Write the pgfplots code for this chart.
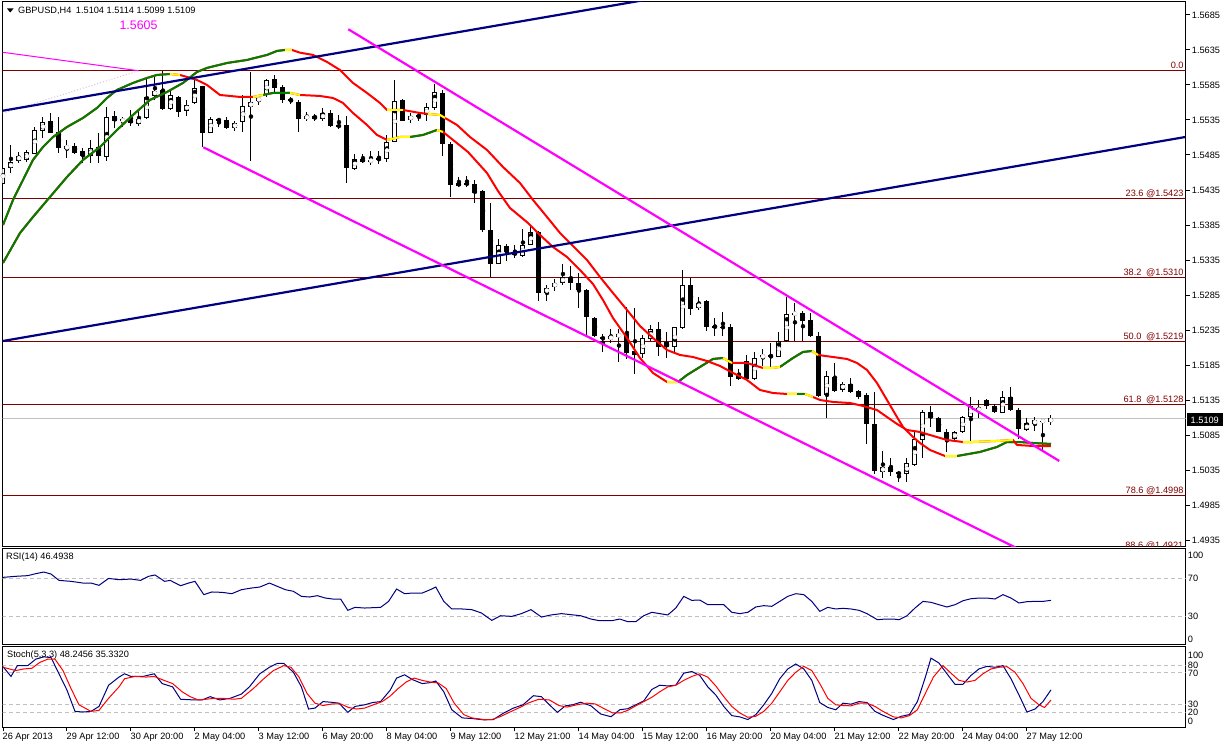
\documentclass[border=0pt]{standalone}
\usepackage{fontspec}
\setmainfont{Liberation Sans}
\usepackage{pgfplots}
\usepackage{pgfplotstable}
\pgfplotsset{compat=1.18}
\definecolor{mtmaroon}{RGB}{128,0,0}
\definecolor{mtnavy}{RGB}{0,0,128}
\definecolor{mtgreen}{RGB}{0,128,0}
\definecolor{mtsilver}{RGB}{192,192,192}
\definecolor{mtmag}{RGB}{255,0,255}
\definecolor{mtdot}{RGB}{216,191,216}
\definecolor{mtyellow}{RGB}{255,255,0}
\definecolor{mtred}{RGB}{255,0,0}

% bullish candles (close >= open)
\pgfplotstableread{
i o h l c
0 1.5444 1.5471 1.5441 1.5466
1 1.5466 1.5499 1.5460 1.5475
2 1.5477 1.5490 1.5473 1.5484
3 1.5478 1.5492 1.5475 1.5489
4 1.5487 1.5525 1.5486 1.5521
5 1.5519 1.5540 1.5510 1.5532
8 1.5494 1.5507 1.5481 1.5498
11 1.5483 1.5506 1.5473 1.5495
13 1.5482 1.5553 1.5477 1.5539
15 1.5533 1.5540 1.5525 1.5536
17 1.5530 1.5550 1.5526 1.5537
18 1.5538 1.5596 1.5536 1.5568
19 1.5570 1.5597 1.5564 1.5577
21 1.5551 1.5578 1.5549 1.5570
23 1.5548 1.5564 1.5541 1.5557
24 1.5559 1.5592 1.5558 1.5580
26 1.5517 1.5539 1.5516 1.5537
29 1.5523 1.5534 1.5520 1.5531
30 1.5532 1.5570 1.5518 1.5555
31 1.5554 1.5603 1.5477 1.5560
32 1.5562 1.5571 1.5556 1.5567
33 1.5571 1.5593 1.5568 1.5592
38 1.5537 1.5547 1.5533 1.5541
40 1.5536 1.5552 1.5534 1.5545
44 1.5465 1.5487 1.5464 1.5480
46 1.5476 1.5490 1.5471 1.5478
48 1.5479 1.5514 1.5475 1.5504
49 1.5504 1.5592 1.5503 1.5562
51 1.5535 1.5545 1.5531 1.5541
53 1.5542 1.5559 1.5534 1.5553
54 1.5552 1.5587 1.5549 1.5575
62 1.5330 1.5365 1.5329 1.5357
65 1.5341 1.5380 1.5340 1.5357
66 1.5357 1.5385 1.5356 1.5375
68 1.5288 1.5299 1.5277 1.5295
69 1.5296 1.5308 1.5291 1.5303
70 1.5302 1.5330 1.5300 1.5311
76 1.5222 1.5236 1.5216 1.5226
77 1.5225 1.5236 1.5190 1.5230
80 1.5201 1.5228 1.5195 1.5223
81 1.5222 1.5243 1.5219 1.5236
84 1.5211 1.5240 1.5202 1.5239
85 1.5238 1.5321 1.5236 1.5299
87 1.5266 1.5282 1.5264 1.5274
94 1.5165 1.5204 1.5164 1.5195
95 1.5196 1.5208 1.5184 1.5199
97 1.5197 1.5233 1.5196 1.5219
98 1.5219 1.5283 1.5218 1.5258
99 1.5258 1.5273 1.5219 1.5259
103 1.5142 1.5176 1.5109 1.5169
105 1.5150 1.5161 1.5146 1.5158
110 1.5033 1.5062 1.5024 1.5039
113 1.5029 1.5053 1.5018 1.5045
114 1.5042 1.5092 1.5041 1.5079
115 1.5078 1.5121 1.5052 1.5118
119 1.5079 1.5091 1.5078 1.5090
120 1.5090 1.5112 1.5088 1.5111
121 1.5111 1.5140 1.5076 1.5127
122 1.5120 1.5135 1.5110 1.5123
125 1.5117 1.5148 1.5116 1.5140
128 1.5092 1.5109 1.5091 1.5102
129 1.5101 1.5111 1.5091 1.5106
130 1.5105 1.5106 1.5064 1.5105
131 1.5104 1.5114 1.5099 1.5109
}\bull

% bearish candles (close < open)
\pgfplotstableread{
i o h l c
6 1.5534 1.5545 1.5516 1.5517
7 1.5518 1.5540 1.5488 1.5495
9 1.5498 1.5502 1.5487 1.5488
10 1.5491 1.5495 1.5474 1.5483
12 1.5497 1.5516 1.5473 1.5483
14 1.5541 1.5548 1.5524 1.5534
16 1.5535 1.5549 1.5526 1.5531
20 1.5578 1.5605 1.5549 1.5551
22 1.5568 1.5569 1.5540 1.5547
25 1.5583 1.5584 1.5496 1.5517
27 1.5537 1.5538 1.5525 1.5533
28 1.5535 1.5540 1.5522 1.5523
34 1.5593 1.5599 1.5575 1.5581
35 1.5582 1.5585 1.5559 1.5564
36 1.5565 1.5568 1.5558 1.5562
37 1.5561 1.5564 1.5518 1.5536
39 1.5540 1.5544 1.5534 1.5537
41 1.5545 1.5549 1.5525 1.5526
42 1.5528 1.5542 1.5522 1.5525
43 1.5528 1.5541 1.5445 1.5466
45 1.5480 1.5487 1.5474 1.5475
47 1.5480 1.5490 1.5472 1.5478
50 1.5564 1.5565 1.5533 1.5534
52 1.5542 1.5545 1.5534 1.5540
55 1.5573 1.5578 1.5484 1.5500
56 1.5501 1.5504 1.5425 1.5442
57 1.5445 1.5454 1.5439 1.5441
58 1.5445 1.5455 1.5439 1.5443
59 1.5444 1.5449 1.5416 1.5431
60 1.5434 1.5435 1.5375 1.5378
61 1.5378 1.5416 1.5311 1.5329
63 1.5355 1.5358 1.5334 1.5346
64 1.5346 1.5356 1.5338 1.5342
67 1.5375 1.5377 1.5276 1.5288
71 1.5311 1.5326 1.5292 1.5302
72 1.5302 1.5317 1.5266 1.5292
73 1.5292 1.5293 1.5228 1.5254
74 1.5253 1.5254 1.5225 1.5226
75 1.5225 1.5230 1.5204 1.5222
78 1.5229 1.5268 1.5194 1.5203
79 1.5205 1.5266 1.5172 1.5200
82 1.5236 1.5247 1.5198 1.5211
83 1.5218 1.5232 1.5195 1.5211
86 1.5300 1.5310 1.5257 1.5265
88 1.5277 1.5278 1.5234 1.5240
89 1.5241 1.5253 1.5227 1.5239
90 1.5240 1.5261 1.5227 1.5238
91 1.5240 1.5244 1.5155 1.5168
92 1.5172 1.5179 1.5164 1.5165
93 1.5191 1.5200 1.5164 1.5165
96 1.5199 1.5216 1.5180 1.5196
100 1.5259 1.5262 1.5219 1.5248
101 1.5249 1.5260 1.5225 1.5226
102 1.5227 1.5232 1.5140 1.5141
104 1.5168 1.5188 1.5146 1.5148
106 1.5158 1.5166 1.5145 1.5147
107 1.5148 1.5149 1.5136 1.5140
108 1.5142 1.5145 1.5072 1.5101
109 1.5101 1.5147 1.5030 1.5033
111 1.5040 1.5053 1.5026 1.5032
112 1.5032 1.5034 1.5018 1.5029
116 1.5118 1.5127 1.5096 1.5110
117 1.5110 1.5111 1.5089 1.5090
118 1.5089 1.5094 1.5061 1.5079
123 1.5135 1.5136 1.5123 1.5126
124 1.5127 1.5129 1.5116 1.5118
126 1.5140 1.5154 1.5120 1.5121
127 1.5121 1.5123 1.5080 1.5093
}\bear

\pgfplotsset{
  mt/.style={scale only axis, width=1183.2pt, xmin=-0.0625, xmax=147.84,
    anchor=south west, axis line style={black, line width=1pt},
    tick style={black, line width=1pt},
    tick label style={font=\fontsize{9.2}{11}\selectfont}},
  mainax/.style={mt, at={(2.5pt,199.3pt)}, height=544.7pt, ymin=1.49256, ymax=1.57035},
  cndl/.style={only marks, mark=none, forget plot},
}
\tikzset{fiblab/.style={anchor=base east, inner sep=0pt, text=mtmaroon, yshift=2.2pt, font=\fontsize{9.2}{11}\selectfont}}

\begin{document}
\begin{tikzpicture}[x=1pt,y=1pt,font=\fontsize{9.2}{11}\selectfont]
\path (0,0) rectangle (1225,746);

%================ MAIN PANEL: frame, levels =================
\begin{axis}[mainax,
  xtick=\empty,
  ytick={1.4935,1.4985,1.5035,1.5085,1.5135,1.5185,1.5235,1.5285,1.5335,1.5385,1.5435,1.5485,1.5535,1.5585,1.5635,1.5685},
  yticklabels={1.4935,1.4985,1.5035,1.5085,1.5135,1.5185,1.5235,1.5285,1.5335,1.5385,1.5435,1.5485,1.5535,1.5585,1.5635,1.5685},
  ytick pos=right, yticklabel pos=right, ytick align=outside, major tick length=4pt,
  yticklabel style={anchor=west, inner sep=0pt, xshift=2pt}]
\addplot[mtmaroon, line width=1pt] coordinates {(-1,1.5605) (149,1.5605)};
\addplot[mtmaroon, line width=1pt] coordinates {(-1,1.5423) (149,1.5423)};
\addplot[mtmaroon, line width=1pt] coordinates {(-1,1.5310) (149,1.5310)};
\addplot[mtmaroon, line width=1pt] coordinates {(-1,1.5219) (149,1.5219)};
\addplot[mtmaroon, line width=1pt] coordinates {(-1,1.5128) (149,1.5128)};
\addplot[mtmaroon, line width=1pt] coordinates {(-1,1.4998) (149,1.4998)};
\addplot[mtsilver, line width=1pt] coordinates {(-1,1.5109) (149,1.5109)};
\addplot[mtmag, line width=1pt] coordinates {(-0.04,1.56317) (16.9,1.56054)};
\addplot[mtdot, line width=1pt, dotted] coordinates {(16.9,1.5605) (-0.04,1.55446)};
\node[fiblab] at (axis cs:147.6,1.5605) {0.0};
\node[fiblab] at (axis cs:147.6,1.5423) {23.6 @1.5423};
\node[fiblab] at (axis cs:147.6,1.5310) {38.2\enspace @1.5310};
\node[fiblab] at (axis cs:147.6,1.5219) {50.0\enspace @1.5219};
\node[fiblab] at (axis cs:147.6,1.5128) {61.8\enspace @1.5128};
\node[fiblab] at (axis cs:147.6,1.4998) {78.6 @1.4998};
\end{axis}

%================ MAIN PANEL: candles =================
\begin{axis}[mainax, hide axis]
\addplot[black, cndl, error bars/.cd, y dir=both, y explicit, error mark=none,
  error bar style={line width=1pt, black}]
  table[x=i, y expr={(\thisrow{h}+\thisrow{l})/2}, y error expr={(\thisrow{h}-\thisrow{l})/2}] {\bull};
\addplot[black, cndl, error bars/.cd, y dir=both, y explicit, error mark=none,
  error bar style={line width=1pt, black}]
  table[x=i, y expr={(\thisrow{h}+\thisrow{l})/2}, y error expr={(\thisrow{h}-\thisrow{l})/2}] {\bear};
\addplot[black, cndl, error bars/.cd, y dir=both, y explicit, error mark=none,
  error bar style={line width=5pt, black}]
  table[x=i, y expr={(\thisrow{o}+\thisrow{c})/2}, y error expr={max((\thisrow{o}-\thisrow{c})/2,0.00007)}] {\bear};
\addplot[black, cndl, error bars/.cd, y dir=both, y explicit, error mark=none,
  error bar style={line width=5pt, black}]
  table[x=i, y expr={(\thisrow{o}+\thisrow{c})/2}, y error expr={max((\thisrow{c}-\thisrow{o})/2,0.00007)}] {\bull};
\addplot[white, cndl, error bars/.cd, y dir=both, y explicit, error mark=none,
  error bar style={line width=3pt, white}]
  table[x=i, y expr={(\thisrow{o}+\thisrow{c})/2}, y error expr={max((\thisrow{c}-\thisrow{o})/2-0.000143,0)}] {\bull};
\end{axis}

%================ MAIN PANEL: indicators and objects =================
\begin{axis}[mainax, hide axis]
\addplot[mtred, line width=2pt, line join=round] coordinates {
(0,1.53851) (1.25,1.54208) (2.5,1.54493) (3.75,1.54779) (5,1.54965) (6.25,1.55107) (8,1.55250) (10,1.55379) (11.75,1.55522) (13,1.55664) (14.25,1.55779) (16.25,1.55879) (18,1.55950) (19.25,1.55993) (20.875,1.56007) (22.125,1.55993) (23,1.55964) (24.25,1.55921) (25.5,1.55850) (27.125,1.55707) (29.625,1.55679) (31.25,1.55679) (32.5,1.55707) (33.75,1.55736) (35.875,1.55736) (37.125,1.55707) (39.625,1.55693) (41.25,1.55664) (42.5,1.55593) (43.75,1.55450) (45.5,1.55279) (46.75,1.55136) (48,1.55065) (49.625,1.55107) (50.875,1.55107) (52.5,1.55136) (54.25,1.55207) (55,1.55179) (56.25,1.55065) (58.125,1.54893) (60.5,1.54593) (61.875,1.54336) (63.375,1.54093) (65.625,1.53879) (67.125,1.53708) (68.75,1.53536) (70.5,1.53394) (72.125,1.53208) (73.75,1.53008) (75,1.52779) (76.25,1.52522) (78,1.52237) (79.625,1.51951) (81.25,1.51737) (83,1.51608) (84.375,1.51608) (85.5,1.51708) (87.125,1.51823) (88.75,1.51937) (90,1.51951) (91.125,1.51880) (93,1.51880) (95,1.51808) (96.125,1.51808) (97.125,1.51823) (98.75,1.51951) (100,1.52037) (101.125,1.52051) (101.875,1.51994) (103.75,1.51965) (105.5,1.51937) (106.75,1.51880) (108,1.51780) (109.25,1.51594) (110.5,1.51351) (111.75,1.51108) (112.5,1.50966) (113.75,1.50823) (114.625,1.50737) (115.875,1.50637) (117.75,1.50551) (119.25,1.50551) (120,1.50566) (122.125,1.50609) (124.25,1.50680) (125.5,1.50751) (127.125,1.50751) (128.75,1.50737) (131,1.50723)};
\addplot[mtgreen, line width=2pt, line join=round] coordinates {(0,1.53851) (1.25,1.54208) (2.5,1.54493) (3.75,1.54779) (5,1.54965) (6.25,1.55107) (8,1.55250) (10,1.55379) (11.75,1.55522) (13,1.55664) (14.25,1.55779) (16.25,1.55879) (18,1.55950) (19.25,1.55993) (20.875,1.56007)};
\addplot[mtgreen, line width=2pt] coordinates {(32.5,1.55707) (33.75,1.55736) (35.875,1.55736)};
\addplot[mtgreen, line width=2pt] coordinates {(50.875,1.55107) (52.5,1.55136) (54.25,1.55207)};
\addplot[mtgreen, line width=2pt] coordinates {(84.375,1.51608) (85.5,1.51708) (87.125,1.51823) (88.75,1.51937) (90,1.51951)};
\addplot[mtgreen, line width=2pt] coordinates {(97.125,1.51823) (98.75,1.51951) (100,1.52037) (101.125,1.52051)};
\addplot[mtgreen, line width=2pt] coordinates {(119.25,1.50551) (120,1.50566) (122.125,1.50609) (124.25,1.50680) (125.5,1.50751) (127.125,1.50751) (128.75,1.50737) (131,1.50723)};
\addplot[mtyellow, line width=2pt] coordinates {(20.875,1.56007) (22.125,1.55993)};
\addplot[mtyellow, line width=2pt] coordinates {(31.25,1.55679) (32.5,1.55707)};
\addplot[mtyellow, line width=2pt] coordinates {(35.875,1.55736) (37.125,1.55707)};
\addplot[mtyellow, line width=2pt] coordinates {(48,1.55065) (49.625,1.55107) (50.875,1.55107)};
\addplot[mtyellow, line width=2pt] coordinates {(54.25,1.55207) (55,1.55179)};
\addplot[mtyellow, line width=2pt] coordinates {(83,1.51608) (84.375,1.51608)};
\addplot[mtyellow, line width=2pt] coordinates {(90,1.51951) (91.125,1.51880)};
\addplot[mtyellow, line width=2pt] coordinates {(95,1.51808) (96.125,1.51808) (97.125,1.51823)};
\addplot[mtyellow, line width=2pt] coordinates {(101.125,1.52051) (101.875,1.51994)};
\addplot[mtyellow, line width=2pt] coordinates {(117.75,1.50551) (119.25,1.50551)};
\addplot[mtred, line width=2pt, line join=round] coordinates {
(0,1.53308) (2.125,1.53736) (3.75,1.53965) (5.875,1.54251) (8,1.54536) (10,1.54779) (12.125,1.54965) (14.25,1.55207) (16.25,1.55422) (18.375,1.55636) (20.5,1.55750) (22.5,1.55879) (24.25,1.56036) (25.5,1.56093) (28,1.56164) (30.5,1.56207) (33,1.56279) (34.25,1.56336) (35.25,1.56350) (36.125,1.56350) (37.125,1.56311) (38.75,1.56279) (40.5,1.56179) (42.125,1.56064) (43.75,1.55879) (45.5,1.55736) (47.125,1.55593) (48,1.55493) (50,1.55493) (52.125,1.55450) (53.125,1.55436) (54.625,1.55422) (55.25,1.55379) (56.75,1.55279) (58.375,1.55107) (60.5,1.54922) (62.5,1.54679) (64.625,1.54450) (66.25,1.54208) (68,1.53965) (69.625,1.53736) (70.875,1.53594) (73,1.53351) (74.625,1.53108) (76.25,1.52879) (78,1.52637) (79.625,1.52408) (81.25,1.52237) (83,1.52065) (84.625,1.51994) (86.25,1.51965) (88,1.51908) (89.625,1.51837) (91.25,1.51737) (93,1.51637) (94.625,1.51494) (96.25,1.51451) (98,1.51437) (99.25,1.51437) (100.25,1.51437) (101.25,1.51394) (102.125,1.51351) (103.75,1.51323) (105.875,1.51308) (107.5,1.51266) (109.25,1.51208) (110.5,1.51108) (111.75,1.51009) (113,1.50923) (114.625,1.50894) (115.875,1.50851) (118,1.50780) (120,1.50751) (121.25,1.50751) (124.25,1.50766) (126.25,1.50780) (126.75,1.50709) (128.75,1.50694) (131,1.50694)};
\addplot[mtgreen, line width=2pt, line join=round] coordinates {(0,1.53308) (2.125,1.53736) (3.75,1.53965) (5.875,1.54251) (8,1.54536) (10,1.54779) (12.125,1.54965) (14.25,1.55207) (16.25,1.55422) (18.375,1.55636) (20.5,1.55750) (22.5,1.55879) (24.25,1.56036) (25.5,1.56093) (28,1.56164) (30.5,1.56207) (33,1.56279) (34.25,1.56336) (35.25,1.56350)};
\addplot[mtgreen, line width=2pt] coordinates {(99.25,1.51437) (100.25,1.51437)};
\addplot[mtyellow, line width=2pt] coordinates {(35.25,1.56350) (36.125,1.56350)};
\addplot[mtyellow, line width=2pt] coordinates {(48,1.55493) (50,1.55493)};
\addplot[mtyellow, line width=2pt] coordinates {(53.125,1.55436) (54.625,1.55422) (55.25,1.55379)};
\addplot[mtyellow, line width=2pt] coordinates {(98,1.51437) (99.25,1.51437)};
\addplot[mtyellow, line width=2pt] coordinates {(100.25,1.51437) (101.25,1.51394)};
\addplot[mtyellow, line width=2pt] coordinates {(120,1.50751) (121.25,1.50751) (124.25,1.50766) (126.25,1.50780)};
\addplot[mtnavy, line width=2.2pt] coordinates {(-0.1,1.55481) (80,1.57059)};
\addplot[mtnavy, line width=2.2pt] coordinates {(-0.1,1.52192) (148,1.55111)};
\addplot[mtmag, line width=2.2pt] coordinates {(43.16,1.56646) (132.04,1.50480)};
\addplot[mtmag, line width=2.2pt] coordinates {(25.04,1.54960) (127,1.49220)};
\end{axis}

\begin{scope}
\clip (2.5,199.8) rectangle (1185,744);
\node[anchor=base east, inner sep=0pt, text=mtmaroon] at (1183.5,197) {88.6 @1.4921};
\end{scope}

\node[anchor=west, fill=black, text=white, inner xsep=4pt, inner ysep=2pt, minimum height=13pt] at (1186.5,326) {1.5109};

\fill (7,737.5) -- (13.5,737.5) -- (10.25,733.5) -- cycle;
\node[anchor=west, inner sep=0pt] at (18,735) {GBPUSD,H4\enspace 1.5104 1.5114 1.5099 1.5109};
\node[text=mtmag, font=\fontsize{12.4}{14}\selectfont, inner sep=0pt] at (138.5,721) {1.5605};

%================ RSI PANEL =================
\begin{axis}[mt, at={(2.5pt,101pt)}, height=96.7pt, ymin=-0.53, ymax=101.3,
  xtick=\empty, ytick={5.8,30,70,94.2}, yticklabels={0,30,70,100},
  ytick pos=right, yticklabel pos=right, ytick style={draw=none},
  yticklabel style={anchor=west, inner sep=0pt, xshift=2pt}]
\addplot[mtsilver, line width=1pt, dash pattern=on 4pt off 3pt] coordinates {(-1,70) (149,70)};
\addplot[mtsilver, line width=1pt, dash pattern=on 4pt off 3pt] coordinates {(-1,30) (149,30)};
\addplot[mtnavy, line width=1pt] coordinates {
(0,70.7) (1.6,71.8) (3.1,72.5) (4.1,74.6) (5.1,76.3) (6,74.2) (7,67.5) (8.5,66.5) (10,64.7) (11,64.7) (12,62.3) (13.2,69.6) (14.5,68.2) (16,68.9) (17.2,67.5) (18.2,71.8) (19,73.2) (20.2,66.5) (20.9,67.5) (22.2,61.9) (23.2,64.7) (24,66.5) (25.1,52.5) (26.1,55.3) (27.4,54.9) (28.6,53.5) (29.8,57.7) (31.1,59.5) (32.1,60.5) (33.3,64.7) (34.3,61.2) (35.3,57.7) (36.3,56) (37.3,50.7) (38.3,50) (39.3,51.4) (40.3,48.9) (41.2,47.9) (42.2,47.9) (43.1,36) (44,39.1) (45.2,38.4) (47.2,39.1) (48.2,45.4) (49.2,58.4) (50.2,53.5) (51.2,54.2) (52.4,54.2) (53.4,57.7) (54.1,60.5) (55.1,45.4) (56.1,37.4) (57.4,37.4) (58.6,36.7) (59.8,33.2) (61.1,25.4) (62.2,30.3) (63.6,29.6) (64.8,32.5) (66,36.7) (67.3,28.9) (68.5,31.1) (69.8,32.5) (71,31.4) (72.2,30.3) (73.5,26.8) (74.5,25.1) (76.1,25.1) (77.1,26.8) (78.1,24) (79.1,24) (80.1,30.3) (81.1,33.9) (82.1,32.5) (83.1,31.1) (84.1,38.4) (85.1,50.7) (86.1,46.5) (87.1,46.8) (88.1,41.9) (89.1,41.9) (90.1,41.9) (91.1,33.9) (92.1,32.5) (93.1,33.9) (94.1,39.5) (95.1,40.9) (96.1,40.2) (97.1,45.4) (98.1,50.7) (99.1,53.5) (100.1,52.5) (101.1,45.4) (102.1,34.9) (103.1,39.1) (104.1,37.4) (105,38.1) (106,37.4) (107,36) (108,32.5) (109.3,26.1) (110.3,26.8) (111.3,26.8) (112,26.1) (113,30.3) (114,38.4) (115,45.4) (116,44.4) (117,41.9) (118,39.5) (119,41.9) (120,46.1) (121,48.2) (122,48.9) (123,48.9) (124,47.9) (125,52.5) (126,48.9) (127,43.7) (128,45.1) (129,45.4) (130,45.4) (131,46.49)};
\end{axis}
\node[anchor=west, inner sep=0pt] at (6,189) {RSI(14) 46.4938};

%================ STOCHASTIC PANEL =================
\begin{axis}[mt, at={(2.5pt,18pt)}, height=81pt, ymin=-0.4, ymax=103,
  xtick={0,8,...,128},
  xticklabels={26 Apr 2013,29 Apr 12:00,30 Apr 20:00,2 May 04:00,3 May 12:00,6 May 20:00,8 May 04:00,9 May 12:00,12 May 21:00,14 May 04:00,15 May 12:00,16 May 20:00,20 May 04:00,21 May 12:00,22 May 20:00,24 May 04:00,27 May 12:00},
  xtick pos=bottom, xtick align=outside, major tick length=3.5pt,
  xticklabel style={anchor=north west, inner sep=0pt, xshift=-0.5pt, yshift=-1pt},
  ytick={8.5,20,30,70,80,92.8}, yticklabels={0,20,30,70,80,100},
  ytick pos=right, yticklabel pos=right, ytick style={draw=none},
  yticklabel style={anchor=west, inner sep=0pt, xshift=2pt}]
\addplot[mtsilver, line width=1pt, dash pattern=on 4pt off 3pt] coordinates {(-1,80) (149,80)};
\addplot[mtsilver, line width=1pt, dash pattern=on 4pt off 3pt] coordinates {(-1,70) (149,70)};
\addplot[mtsilver, line width=1pt, dash pattern=on 4pt off 3pt] coordinates {(-1,30) (149,30)};
\addplot[mtsilver, line width=1pt, dash pattern=on 4pt off 3pt] coordinates {(-1,20) (149,20)};
\addplot[mtnavy, line width=1pt] coordinates {
(0,77.9) (1,65.4) (1.8,79.2) (3.1,79.2) (4.1,87.5) (5.1,90.4) (6,89.6) (7,68.8) (8,47.9) (9,20.8) (10,20) (11,20.8) (12,27.1) (13.2,54.2) (14.5,64.6) (15.2,68.8) (16,65.4) (17.5,65.4) (18.9,68.8) (19.9,56.3) (21.2,52.1) (22.2,36.3) (23.9,35.4) (24.9,35.4) (25.9,39.6) (27.1,35.4) (28.4,37.5) (29.8,42.9) (30.8,52.1) (32.1,68.8) (33.3,77.1) (34.3,82.1) (35.1,82.1) (36.3,70.8) (37.3,52.1) (38.2,23.8) (39,25) (40,33.3) (41,32.5) (42,31.3) (43.1,19.6) (44,27.1) (45.2,29.2) (46.2,32.1) (47.2,33.3) (48.4,47.9) (49.2,63.3) (50.2,67.5) (51.2,61.3) (52.4,56.3) (53.4,57.5) (54.1,59.6) (55.1,45.8) (56.1,22.9) (57.4,12.5) (58.6,11.7) (60.1,10) (61.3,10.4) (62.6,18.8) (63.8,25) (65,29.2) (66.3,40.8) (67.3,39.6) (68.3,29.2) (69.3,19.6) (70.3,27.9) (71.2,29.2) (72.2,32.5) (73.5,27.9) (74.7,17.5) (76,14) (77.1,22.9) (78.1,24.2) (79.1,29.2) (80.1,34.2) (81.1,48.8) (82.1,54.2) (83.1,53.3) (84.1,54.2) (85.1,69.6) (86.1,71.7) (87.1,66.7) (88.1,52.1) (89.1,41.7) (90.1,27.1) (91.1,15.4) (92.1,13.8) (93.1,10.4) (94.1,16.7) (95.1,29.2) (96.1,43.8) (97.1,62.5) (98.1,75) (99.1,81.3) (100.1,75) (101.1,60.4) (102.1,32.1) (103.1,25.8) (104.1,22.9) (105,31.3) (106,30) (107,33.3) (108,32.1) (109,20.8) (110,15.8) (111.3,10.4) (112.3,14.6) (113.3,16.7) (114.3,33.3) (115.3,64.6) (116,88.8) (117,82.5) (118,68.8) (119,55.4) (120,55.4) (121,66.7) (122,75) (123,78.3) (124,77.1) (125,79.2) (126,62.5) (127,41.7) (128,20) (129,23.8) (130,33.3) (131,48.25)};
\addplot[mtred, line width=1pt] coordinates {
(0,77.1) (1.6,72.9) (2.6,75) (3.6,75.8) (4.6,83.3) (5.6,87.5) (6.5,87.5) (7.5,72.9) (8.5,50) (9.5,29.2) (11,20.8) (12,22.1) (13.2,37.5) (14.5,52.1) (15.2,62.5) (16.5,65.4) (17.9,64.6) (18.9,65.4) (19.9,61.3) (21.2,56.3) (22.4,45.8) (23.4,39.6) (24.4,35.4) (25.4,36.3) (26.4,37.5) (27.4,37.5) (28.9,36.3) (29.8,37.5) (31.3,50) (32.6,62.5) (33.8,72.9) (35.1,79.2) (36,77.1) (37,64.6) (38,43.8) (39,31.3) (40,28.3) (41.2,30.4) (42.2,30.4) (43.2,25.8) (44.2,23.8) (45.2,25) (46.5,30) (47.4,33.3) (48.4,40.4) (49.4,50) (50.4,58.3) (51.4,63.3) (52.4,60.4) (53.4,58.3) (54.4,57.1) (55.4,50) (56.4,31.3) (57.6,16.7) (58.6,12.5) (60.1,10.4) (61.1,10.4) (62.1,13.8) (63.3,19.6) (64.6,25.8) (65.8,32.1) (67,36.3) (68.3,35.4) (69.5,28.3) (70.5,26.3) (71.7,29.2) (73,31.3) (74,30.4) (75,25) (76.2,18.8) (77.2,18.8) (78.1,22.1) (79.1,27.9) (80.1,33.3) (81.1,38.8) (82.1,45.8) (83.1,52.1) (84.1,54.2) (85.1,60.4) (86.1,65.4) (87.1,68.8) (88.1,64.6) (89.1,53.3) (90.1,39.6) (91.1,27.1) (92.1,18.8) (93.1,13.3) (94.1,14.6) (95.1,20.8) (96.1,31.3) (97.1,45.8) (98.1,60.4) (99.1,70.8) (100.1,78.3) (101.1,72.9) (102.1,56.3) (103.1,37.5) (104.1,29.2) (105,28.3) (106,27.9) (107,31.3) (108,31.3) (109,27.1) (110,20.8) (111.3,13.8) (112.3,12.5) (113.3,15.4) (114.3,22.9) (115.3,43.8) (116.3,64.6) (117.5,79.2) (118.5,69.6) (119.5,60.4) (120.5,58.3) (121.5,60.4) (122.5,68.8) (123.5,75) (124.5,77.1) (125.5,77.9) (126.5,70.8) (127.5,56.3) (128.5,37.5) (129.5,29.2) (130.2,25.8) (131,35.33)};
\end{axis}
\node[anchor=west, inner sep=0pt] at (7,90.5) {Stoch(5,3,3) 48.2456 35.3320};
\end{tikzpicture}
\end{document}
